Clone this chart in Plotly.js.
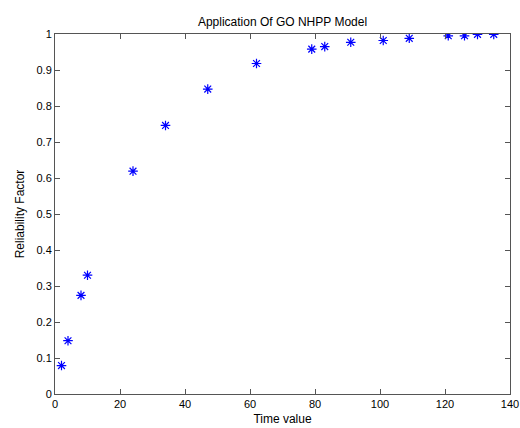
<!DOCTYPE html>
<html>
<head>
<meta charset="utf-8">
<script src="https://cdn.plot.ly/plotly-3.0.1.min.js"></script>
<style>html,body{margin:0;padding:0;background:#fff;}#chart{width:520px;height:428px;}</style>
</head>
<body>
<div id="chart"></div>
<script>
const timeValues = [2, 4, 8, 10, 24, 34, 47, 62, 79, 83, 91, 101, 109, 121, 126, 130, 135];
const reliability = [0.079, 0.148, 0.274, 0.330, 0.619, 0.746, 0.847, 0.918, 0.958, 0.965, 0.977, 0.982, 0.988, 0.995, 0.995, 0.999, 0.999];
const xTicks = [0, 20, 40, 60, 80, 100, 120, 140];
const yTicks = [0, 0.1, 0.2, 0.3, 0.4, 0.5, 0.6, 0.7, 0.8, 0.9, 1];

const trace = {
  x: timeValues, y: reliability, type: 'scatter', mode: 'markers',
  marker: {symbol: 'asterisk-open', size: 8, color: '#0000ff', line: {color: '#0000ff', width: 1.2}},
  hoverinfo: 'skip'
};
const axisCommon = {
  showgrid: false, zeroline: false, showline: true, mirror: 'ticks',
  linecolor: '#555', linewidth: 1, ticks: 'inside', ticklen: 5, tickcolor: '#555',
  tickfont: {family: 'Liberation Sans, Arial, sans-serif', size: 11, color: '#000'}
};
const layout = {
  width: 520, height: 428,
  margin: {l: 55, r: 10, t: 34, b: 34},
  paper_bgcolor: '#fff', plot_bgcolor: '#fff',
  showlegend: false,
  title: {text: 'Application Of GO NHPP Model', x: 0.5, xref: 'paper', y: 1, yref: 'paper', yanchor: 'bottom', pad: {b: 8},
          font: {family: 'Liberation Sans, Arial, sans-serif', size: 12, color: '#000'}},
  xaxis: Object.assign({}, axisCommon, {range: [0, 140], tickvals: xTicks, ticktext: xTicks.map(String),
    title: {text: 'Time value', standoff: 5, font: {family: 'Liberation Sans, Arial, sans-serif', size: 12, color: '#000'}}}),
  yaxis: Object.assign({}, axisCommon, {range: [0, 1], tickvals: yTicks, ticktext: yTicks.map(String),
    title: {text: 'Reliability Factor', standoff: 9, font: {family: 'Liberation Sans, Arial, sans-serif', size: 12, color: '#000'}}})
};
Plotly.newPlot('chart', [trace], layout, {staticPlot: true, displayModeBar: false});
</script>
</body>
</html>
